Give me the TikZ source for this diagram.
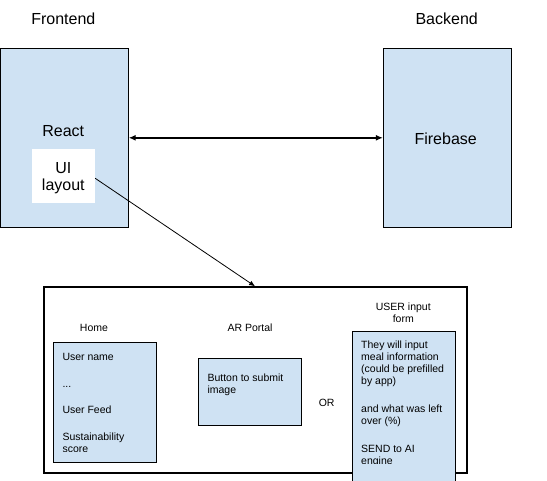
\documentclass[tikz,border=0pt]{standalone}
\usepackage{fontspec}
\setmainfont{Liberation Sans}
\usetikzlibrary{arrows.meta}
\definecolor{boxblue}{HTML}{CFE2F3}
\tikzset{
  bigtxt/.style={font=\fontsize{16}{17}\selectfont, inner sep=0pt},
  smalltxt/.style={font=\fontsize{10.5}{12}\selectfont, inner sep=0pt},
  bluebox/.style={draw=black, fill=boxblue, line width=0.8pt, inner sep=0pt},
}
\begin{document}
\begin{tikzpicture}[x=1pt,y=-1pt]
\useasboundingbox (0,0) rectangle (547,480);
\clip (0,0) rectangle (547,480);
% top boxes
\node[bluebox, minimum width=127.8pt, minimum height=179pt] (fe) at (64.4,137.8) {};
\node[bluebox, minimum width=128.4pt, minimum height=179pt] (be) at (447.5,137.8) {};
\node[fill=white, inner sep=0pt, minimum width=63pt, minimum height=53.7pt] (ui) at (63.5,175.8) {};
\node[bigtxt, anchor=base] (fet) at (63.3,24) {Frontend};
\node[bigtxt, anchor=base] (bet) at (446.7,24) {Backend};
\node[bigtxt, anchor=base] (react) at (63.3,136) {React};
\node[bigtxt, anchor=base] (fb) at (445.7,144) {Firebase};
\node[bigtxt, anchor=base] (ui1) at (63.3,173.7) {UI};
\node[bigtxt, anchor=base] (ui2) at (63.3,190.7) {layout};
\draw[line width=2pt, {Latex[length=7pt,width=6pt]}-{Latex[length=7pt,width=6pt]}] (fe.east) -- (be.west);
% big box
\node[draw=black, line width=2pt, fill=white, minimum width=423.2pt, minimum height=185.4pt, inner sep=0pt] (big) at (255.1,380) {};
\draw[line width=0.8pt, -{Latex[length=6pt,width=5pt]}] ([yshift=-2.5pt]ui.east) -- (big.north);
% inner boxes
\node[bluebox, minimum width=103pt, minimum height=120pt] (home) at (104.8,402.3) {};
\node[bluebox, minimum width=103pt, minimum height=66.6pt] (ar) at (249.8,392) {};
\node[bluebox, minimum width=103pt, minimum height=170pt] (form) at (404.2,416.7) {};
% labels
\node[smalltxt, anchor=base] (homet) at (94,331.7) {Home};
\node[smalltxt, anchor=base] (art) at (250,331.7) {AR Portal};
\node[smalltxt, anchor=base] (formt1) at (403.3,310) {USER input};
\node[smalltxt, anchor=base] (formt2) at (403.3,322) {form};
\node[smalltxt, anchor=base] (or) at (326.7,406.3) {OR};
% home text
\begin{scope}
\clip (53,342) rectangle (157,451.3);
\node[smalltxt, anchor=base west] (h1) at (62.3,360) {User name};
\node[smalltxt, anchor=base west] (h2) at (62.3,387.3) {...};
\node[smalltxt, anchor=base west] (h3) at (62.3,413.3) {User Feed};
\node[smalltxt, anchor=base west] (h4) at (62.3,440.7) {Sustainability};
\node[smalltxt, anchor=base west] (h5) at (62.3,452.7) {score};
\end{scope}
% AR text
\node[smalltxt, anchor=base west] (a1) at (207.3,381.3) {Button to submit};
\node[smalltxt, anchor=base west] (a2) at (207.3,393.3) {image};
% form text
\begin{scope}
\clip (353,331) rectangle (456,463.8);
\node[smalltxt, anchor=base west] (f1) at (361,348) {They will input};
\node[smalltxt, anchor=base west] (f2) at (361,360) {meal information};
\node[smalltxt, anchor=base west] (f3) at (361,372) {(could be prefilled};
\node[smalltxt, anchor=base west] (f4) at (361,384) {by app)};
\node[smalltxt, anchor=base west] (f5) at (361,412.7) {and what was left};
\node[smalltxt, anchor=base west] (f6) at (361,424.7) {over (\%)};
\node[smalltxt, anchor=base west] (f7) at (361,452) {SEND to AI};
\node[smalltxt, anchor=base west] (f8) at (361,464) {engine};
\end{scope}
\end{tikzpicture}
\end{document}
